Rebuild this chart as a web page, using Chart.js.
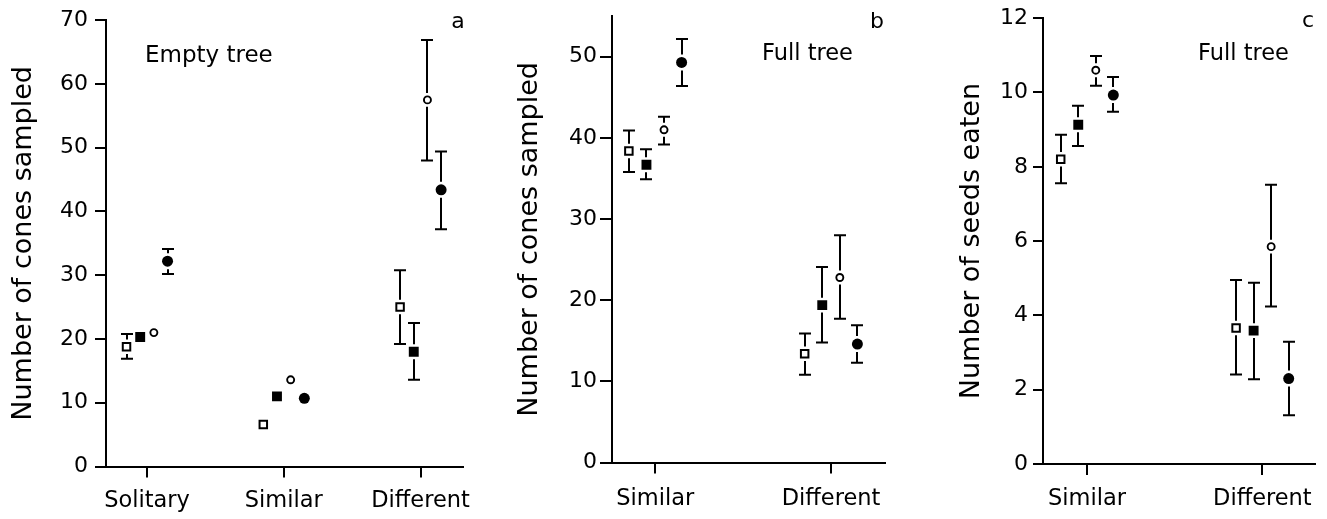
<!DOCTYPE html>
<html>
<head>
<meta charset="utf-8">
<script src="https://cdn.jsdelivr.net/npm/chart.js@4.4.1/dist/chart.umd.min.js"></script>
<style>
    body { margin: 0; background: #fff; }
    #wrap { position: relative; width: 1327px; height: 519px; overflow: hidden; }
    canvas { position: absolute; top: 0; }
</style>
</head>
<body>
<div id="wrap">
    <canvas id="chart-a" width="490" height="519" style="left:0px"></canvas>
    <canvas id="chart-b" width="420" height="519" style="left:490px"></canvas>
    <canvas id="chart-c" width="417" height="519" style="left:910px"></canvas>
</div>
<script>
// Panel a - Empty tree, cones sampled
const aCategories = ["Solitary", "Similar", "Different"];
const aYTicks = [0, 10, 20, 30, 40, 50, 60, 70];
const aOpenSquare = [18.8, 6.6, 25.0];
const aOpenSquareErr = [[16.9, 20.8], null, [19.2, 30.8]];
const aFilledSquare = [20.3, 11.0, 18.0];
const aFilledSquareErr = [null, null, [13.6, 22.5]];
const aOpenCircle = [21.0, 13.6, 57.5];
const aOpenCircleErr = [null, null, [48.0, 66.9]];
const aFilledCircle = [32.2, 10.7, 43.4];
const aFilledCircleErr = [[30.2, 34.1], null, [37.2, 49.4]];

// Panel b - Full tree, cones sampled
const bCategories = ["Similar", "Different"];
const bYTicks = [0, 10, 20, 30, 40, 50];
const bOpenSquare = [38.4, 13.4];
const bOpenSquareErr = [[35.8, 40.9], [10.8, 15.9]];
const bFilledSquare = [36.7, 19.4];
const bFilledSquareErr = [[34.9, 38.6], [14.8, 24.1]];
const bOpenCircle = [41.0, 22.8];
const bOpenCircleErr = [[39.2, 42.6], [17.7, 28.0]];
const bFilledCircle = [49.3, 14.6];
const bFilledCircleErr = [[46.4, 52.2], [12.3, 16.9]];

// Panel c - Full tree, seeds eaten
const cCategories = ["Similar", "Different"];
const cYTicks = [0, 2, 4, 6, 8, 10, 12];
const cOpenSquare = [8.2, 3.66];
const cOpenSquareErr = [[7.56, 8.86], [2.41, 4.95]];
const cFilledSquare = [9.13, 3.59];
const cFilledSquareErr = [[8.56, 9.64], [2.28, 4.88]];
const cOpenCircle = [10.6, 5.85];
const cOpenCircleErr = [[10.18, 10.98], [4.24, 7.52]];
const cFilledCircle = [9.93, 2.3];
const cFilledCircleErr = [[9.48, 10.42], [1.31, 3.29]];

const FONT = "'DejaVu Sans', sans-serif";
const groupOffset = [-0.15, -0.05, 0.05, 0.15];

// marker looks: open square, filled square, open circle, filled circle
const markers = [
    { pointStyle: "rect", pointRadius: 5.3, pointBackgroundColor: "#fff", pointBorderWidth: 2 },
    { pointStyle: "rect", pointRadius: 7.0, pointBackgroundColor: "#000", pointBorderWidth: 0 },
    { pointStyle: "circle", pointRadius: 3.5, pointBackgroundColor: "#fff", pointBorderWidth: 1.9 },
    { pointStyle: "circle", pointRadius: 5.5, pointBackgroundColor: "#000", pointBorderWidth: 0 }
];

function halfSize(m) {
    const r = m.pointStyle === "rect" ? m.pointRadius * Math.SQRT1_2 : m.pointRadius;
    return r + m.pointBorderWidth / 2;
}

// Error bars drawn under the markers, with a small gap round each marker
const errorBars = {
    id: "errorBars",
    beforeDatasetsDraw(chart) {
        const ctx = chart.ctx;
        const xs = chart.scales.x;
        const ys = chart.scales.y;
        ctx.save();
        ctx.strokeStyle = "#000";
        ctx.lineWidth = 2;
        chart.data.datasets.forEach(ds => {
            ds.data.forEach((pt, i) => {
                const e = ds.errors[i];
                if (!e) return;
                const px = Math.round(xs.getPixelForValue(pt.x));
                const pMid = ys.getPixelForValue(pt.y);
                const pLo = ys.getPixelForValue(e[0]);
                const pHi = ys.getPixelForValue(e[1]);
                const gap = ds.halfSize + 2.5;
                ctx.beginPath();
                if (pMid - gap > pHi) { ctx.moveTo(px, pHi); ctx.lineTo(px, pMid - gap); }
                if (pMid + gap < pLo) { ctx.moveTo(px, pMid + gap); ctx.lineTo(px, pLo); }
                ctx.moveTo(px - 6, pHi); ctx.lineTo(px + 6, pHi);
                ctx.moveTo(px - 6, pLo); ctx.lineTo(px + 6, pLo);
                ctx.stroke();
            });
        });
        ctx.restore();
    }
};

// Panel letter and the "Empty tree" / "Full tree" note
const panelText = {
    id: "panelText",
    afterDraw(chart, args, opts) {
        const ctx = chart.ctx;
        ctx.save();
        ctx.fillStyle = "#000";
        ctx.textBaseline = "alphabetic";
        ctx.font = "22px " + FONT;
        ctx.textAlign = "center";
        ctx.fillText(opts.letter, opts.lx, opts.ly);
        ctx.font = opts.noteSize + "px " + FONT;
        ctx.textAlign = "left";
        ctx.fillText(opts.note, opts.nx, opts.ny);
        ctx.restore();
    }
};

function makePanel(id, p) {
    const series = [p.openSquare, p.filledSquare, p.openCircle, p.filledCircle];
    const errs = [p.openSquareErr, p.filledSquareErr, p.openCircleErr, p.filledCircleErr];

    const datasets = series.map((vals, s) => Object.assign({
        data: vals.map((v, i) => ({ x: i + 1 + groupOffset[s], y: v })),
        errors: errs[s],
        halfSize: halfSize(markers[s]),
        showLine: false,
        pointBorderColor: "#000",
        pointHoverRadius: markers[s].pointRadius
    }, markers[s]));

    const canvas = document.getElementById(id);

    new Chart(canvas.getContext("2d"), {
        type: "scatter",
        data: { datasets: datasets },
        options: {
            responsive: false,
            animation: false,
            events: [],
            layout: {
                padding: { left: 0, top: p.top, right: canvas.width - p.right, bottom: 0 }
            },
            plugins: {
                legend: { display: false },
                tooltip: { enabled: false },
                panelText: p.text
            },
            scales: {
                x: {
                    type: "linear",
                    min: p.xMin,
                    max: p.xMax,
                    afterBuildTicks: scale => {
                        scale.ticks = p.categories.map((c, i) => ({ value: i + 1 }));
                    },
                    afterFit: scale => { scale.height = 519 - p.bottom; },
                    ticks: {
                        callback: v => p.categories[v - 1],
                        color: "#000",
                        font: { family: FONT, size: 22.5 },
                        padding: p.labelPad,
                        maxRotation: 0,
                        autoSkip: false
                    },
                    grid: { drawOnChartArea: false, color: "#000", lineWidth: 2, tickLength: 11, tickWidth: 2 },
                    border: { color: "#000", width: 2 }
                },
                y: {
                    min: p.yTicks[0],
                    max: p.yMax,
                    afterBuildTicks: scale => {
                        scale.ticks = p.yTicks.map(v => ({ value: v }));
                    },
                    afterFit: scale => { scale.width = p.left; },
                    ticks: {
                        color: "#000",
                        font: { family: FONT, size: 22 },
                        padding: p.tickPad
                    },
                    grid: { drawOnChartArea: false, color: "#000", lineWidth: 2, tickLength: p.tickLen, tickWidth: 2 },
                    border: { color: "#000", width: 2 },
                    title: {
                        display: true,
                        text: p.yTitle,
                        color: "#000",
                        font: { family: FONT, size: 27 },
                        padding: { top: p.titlePad, bottom: 0 }
                    }
                }
            }
        },
        plugins: [errorBars, panelText]
    });
}

makePanel("chart-a", {
    categories: aCategories, yTicks: aYTicks, yMax: 70,
    openSquare: aOpenSquare, openSquareErr: aOpenSquareErr,
    filledSquare: aFilledSquare, filledSquareErr: aFilledSquareErr,
    openCircle: aOpenCircle, openCircleErr: aOpenCircleErr,
    filledCircle: aFilledCircle, filledCircleErr: aFilledCircleErr,
    yTitle: "Number of cones sampled",
    left: 106, right: 463, top: 19.5, bottom: 466.5,
    xMin: 0.70, xMax: 3.31, tickLen: 11, tickPad: 7, titlePad: 8, labelPad: 10,
    text: { letter: "a", lx: 458, ly: 28, note: "Empty tree", noteSize: 23, nx: 145, ny: 62 }
});

makePanel("chart-b", {
    categories: bCategories, yTicks: bYTicks, yMax: 55,
    openSquare: bOpenSquare, openSquareErr: bOpenSquareErr,
    filledSquare: bFilledSquare, filledSquareErr: bFilledSquareErr,
    openCircle: bOpenCircle, openCircleErr: bOpenCircleErr,
    filledCircle: bFilledCircle, filledCircleErr: bFilledCircleErr,
    yTitle: "Number of cones sampled",
    left: 122, right: 395, top: 16, bottom: 462.5,
    xMin: 0.754, xMax: 2.307, tickLen: 12, tickPad: 3, titlePad: 24, labelPad: 12,
    text: { letter: "b", lx: 387, ly: 28, note: "Full tree", noteSize: 22.5, nx: 272, ny: 60 }
});

makePanel("chart-c", {
    categories: cCategories, yTicks: cYTicks, yMax: 12,
    openSquare: cOpenSquare, openSquareErr: cOpenSquareErr,
    filledSquare: cFilledSquare, filledSquareErr: cFilledSquareErr,
    openCircle: cOpenCircle, openCircleErr: cOpenCircleErr,
    filledCircle: cFilledCircle, filledCircleErr: cFilledCircleErr,
    yTitle: "Number of seeds eaten",
    left: 133, right: 405, top: 16, bottom: 464,
    xMin: 0.749, xMax: 2.30, tickLen: 10, tickPad: 5, titlePad: 46, labelPad: 11,
    text: { letter: "c", lx: 398, ly: 27, note: "Full tree", noteSize: 22.5, nx: 288, ny: 60 }
});
</script>
</body>
</html>
